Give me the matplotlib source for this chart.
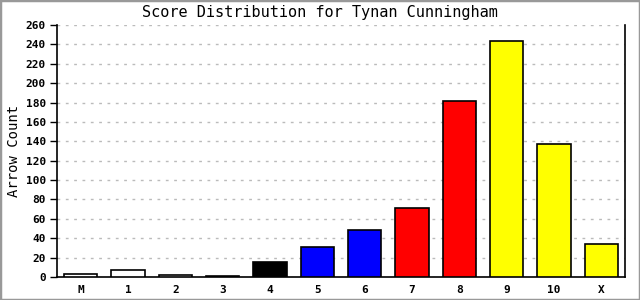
import matplotlib
matplotlib.use('Agg')
import matplotlib.pyplot as plt
from matplotlib.patches import Rectangle

# Score categories and arrow counts
scores = ['M', '1', '2', '3', '4', '5', '6', '7', '8', '9', '10', 'X']
counts = [3, 7, 2, 1, 15, 31, 48, 71, 182, 244, 137, 34]
colors = ['white', 'white', 'white', 'white', 'black', 'blue', 'blue',
          'red', 'red', 'yellow', 'yellow', 'yellow']
yticks = list(range(0, 261, 20))

plt.rcParams['font.family'] = 'DejaVu Sans Mono'

fig = plt.figure(figsize=(6.4, 3.0), dpi=100)
ax = fig.add_axes([57 / 640, 23 / 300, 568 / 640, 252 / 300])

x = range(len(scores))
ax.bar(x, counts, width=0.7, color=colors, edgecolor='black', linewidth=1.2, zorder=3)

ax.set_xlim(-0.5, len(scores) - 0.5)
ax.set_ylim(0, 260)
ax.set_yticks(yticks)
ax.set_xticks(list(x))
ax.set_xticklabels(scores, fontsize=8, fontweight='bold')
ax.set_yticklabels([str(v) for v in yticks], fontsize=8, fontweight='bold')
ax.tick_params(axis='y', direction='out', length=5, width=1, pad=3)
ax.tick_params(axis='x', length=0, pad=6)

ax.grid(axis='y', color='#bbbbbb', linestyle=(0, (2, 4)), linewidth=1, zorder=0)
ax.spines['top'].set_visible(False)
for s in ['left', 'right', 'bottom']:
    ax.spines[s].set_linewidth(1.2)

fig.text(14 / 640, 1 - 151 / 300, 'Arrow Count', rotation=90,
         ha='center', va='center', fontsize=10)
fig.text(0.5, 1 - 13 / 300, 'Score Distribution for Tynan Cunningham',
         ha='center', va='center', fontsize=11)

# gray frame around the image
fig.patches.append(Rectangle((0, 0), 1, 1, transform=fig.transFigure,
                             fill=False, edgecolor='#999999', linewidth=2.5))

fig.savefig('out.png', dpi=100)
